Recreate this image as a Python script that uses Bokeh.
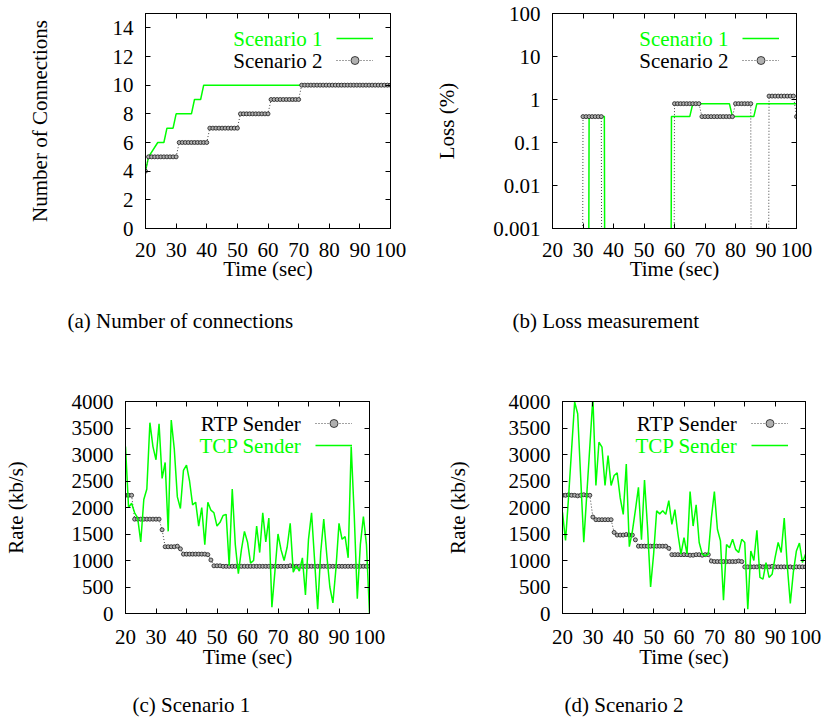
from bokeh.plotting import figure
from bokeh.layouts import column, row
from bokeh.models import (Range1d, FixedTicker, LinearAxis, LogAxis, Label, Legend,
                          LegendItem, CustomJSTickFormatter, Title)
from bokeh.embed import file_html
from bokeh.resources import INLINE

FONT = "Liberation Serif"
GREEN = "#00ff00"
FS = "21px"

# ---------------- data ----------------
time_ticks = [20, 30, 40, 50, 60, 70, 80, 90, 100]
conn_ticks = [0, 2, 4, 6, 8, 10, 12, 14]
loss_ticks = [0.001, 0.01, 0.1, 1, 10, 100]
rate_ticks = [0, 500, 1000, 1500, 2000, 2500, 3000, 3500, 4000]

time = list(range(20, 101))

# (a) number of connections
conn_s1_time = [20, 21, 24, 26, 27, 29, 30, 35, 36, 38, 39, 100]
conn_s1 = [4, 5, 6, 6, 7, 7, 8, 8, 9, 9, 10, 10]
conn_s2 = [4, 5, 5, 5, 5, 5, 5, 5, 5, 5,
           5, 6, 6, 6, 6, 6, 6, 6, 6, 6,
           6, 7, 7, 7, 7, 7, 7, 7, 7, 7,
           7, 8, 8, 8, 8, 8, 8, 8, 8, 8,
           8, 9, 9, 9, 9, 9, 9, 9, 9, 9,
           9, 10, 10, 10, 10, 10, 10, 10, 10, 10,
           10, 10, 10, 10, 10, 10, 10, 10, 10, 10,
           10, 10, 10, 10, 10, 10, 10, 10, 10, 10,
           10]

# (b) loss (%)   (0 = no loss)
loss_s1 = [0, 0, 0, 0, 0, 0, 0, 0, 0, 0,
           0, 0, 0.4, 0.4, 0.4, 0.4, 0.4, 0.4, 0, 0,
           0, 0, 0, 0, 0, 0, 0, 0, 0, 0,
           0, 0, 0, 0, 0, 0, 0, 0, 0, 0.4,
           0.4, 0.4, 0.4, 0.4, 0.4, 0.4, 0.8, 0.8, 0.8, 0.8,
           0.8, 0.8, 0.8, 0.8, 0.8, 0.8, 0.8, 0.8, 0.8, 0.4,
           0.4, 0.4, 0.4, 0.4, 0.4, 0.4, 0.4, 0.8, 0.8, 0.8,
           0.8, 0.8, 0.8, 0.8, 0.8, 0.8, 0.8, 0.8, 0.8, 0.8,
           0.8]
loss_s2 = [0, 0, 0, 0, 0, 0, 0, 0, 0, 0,
           0.4, 0.4, 0.4, 0.4, 0.4, 0.4, 0.4, 0, 0, 0,
           0, 0, 0, 0, 0, 0, 0, 0, 0, 0,
           0, 0, 0, 0, 0, 0, 0, 0, 0, 0,
           0.8, 0.8, 0.8, 0.8, 0.8, 0.8, 0.8, 0.8, 0.8, 0.4,
           0.4, 0.4, 0.4, 0.4, 0.4, 0.4, 0.4, 0.4, 0.4, 0.4,
           0.8, 0.8, 0.8, 0.8, 0.8, 0.8, 0, 0, 0, 0,
           0, 1.2, 1.2, 1.2, 1.2, 1.2, 1.2, 1.2, 1.2, 1.2,
           0.4]

# (c) scenario 1 rates (kb/s)
rtp_s1 = [2230, 2230, 2230, 1780, 1780, 1780, 1780, 1780, 1780, 1780,
          1780, 1780, 1580, 1260, 1260, 1260, 1260, 1270, 1220, 1120,
          1120, 1120, 1120, 1120, 1120, 1120, 1120, 1110, 1010, 900,
          900, 900, 890, 890, 890, 890, 890, 890, 890, 890,
          890, 890, 890, 890, 890, 890, 890, 890, 890, 890,
          890, 890, 890, 890, 900, 890, 890, 890, 890, 890,
          890, 890, 890, 890, 890, 890, 890, 890, 890, 890,
          890, 890, 890, 890, 890, 890, 890, 890, 890, 890,
          890]
tcp_s1 = [3150, 2000, 2080, 1900, 1800, 1350, 2150, 2350, 3600, 3150,
          2900, 3580, 2550, 2850, 1550, 3650, 3100, 2200, 1980, 2700,
          2800, 2500, 2050, 2100, 1650, 2000, 1300, 2100, 1950, 1900,
          1650, 1720, 1850, 1870, 900, 2350, 1300, 750, 1200, 1550,
          1350, 950, 1000, 1650, 1150, 1900, 1350, 1800, 120, 800,
          1500, 1200, 1000, 1250, 1700, 780, 900, 800, 1050, 350,
          1400, 1900, 1000, 80, 1150, 1780, 1100, 500, 200, 850,
          1700, 1400, 1450, 1050, 3150, 1850, 280, 1300, 1830, 1300,
          0]

# (d) scenario 2 rates (kb/s)
rtp_s2 = [2230, 2230, 2240, 2230, 2230, 2220, 2230, 2240, 2230, 2230,
          1820, 1770, 1770, 1770, 1770, 1770, 1770, 1530, 1480, 1480,
          1480, 1490, 1480, 1480, 1390, 1270, 1270, 1270, 1270, 1270,
          1270, 1270, 1270, 1270, 1270, 1230, 1110, 1110, 1110, 1110,
          1110, 1110, 1100, 1100, 1110, 1110, 1100, 1110, 1110, 990,
          980, 980, 980, 980, 980, 980, 980, 980, 990, 980,
          880, 880, 880, 880, 880, 890, 880, 890, 880, 890,
          880, 880, 880, 880, 880, 880, 870, 880, 880, 880,
          880]
tcp_s2 = [1910, 1377, 2200, 3100, 3990, 3770, 2550, 1346, 2250, 3150,
          4080, 2415, 3232, 3138, 2415, 2981, 2415, 2604, 2654, 2180,
          1870, 2820, 1260, 1550, 1950, 2380, 1390, 2520, 1620, 500,
          1120, 1940, 1880, 1940, 1870, 2130, 1680, 1960, 1500, 1120,
          1430, 1120, 2300, 1650, 2050, 1340, 1120, 1090, 1120, 1800,
          2300, 1590, 1370, 250, 1300, 1240, 1400, 1210, 1150, 1400,
          1340, 80, 1180, 1000, 1570, 680, 650, 960, 680, 740,
          1060, 1340, 1150, 1800, 900, 190, 780, 1180, 1330, 960,
          1120]

captions = ["(a) Number of connections", "(b) Loss measurement",
            "(c) Scenario 1", "(d) Scenario 2"]


# ---------------- helpers ----------------
def quiet_axis(ax):
    ax.major_label_text_font_size = "1px"
    ax.major_label_text_color = None
    ax.major_label_standoff = 0
    ax.minor_tick_in = 0
    ax.minor_tick_out = 0


def make_fig(width, height, bl, br, bt, bb, y_range, y_ticks, ylabel, ylabel_standoff,
             tick_standoff_x, xlabel_standoff, caption, cap_offset, cap_gap, log=False):
    p = figure(width=width, height=height, output_backend="svg", toolbar_location=None,
               x_range=Range1d(20, 100), y_range=y_range,
               y_axis_type="log" if log else "linear",
               min_border_left=bl, min_border_right=br, min_border_top=bt,
               min_border_bottom=bb)
    p.xgrid.visible = False
    p.ygrid.visible = False
    p.outline_line_color = "black"
    p.outline_line_width = 1
    p.background_fill_color = "white"
    p.border_fill_color = "white"

    xa = p.xaxis[0]
    xa.ticker = FixedTicker(ticks=time_ticks)
    xa.axis_label = "Time (sec)"
    xa.major_label_standoff = tick_standoff_x
    xa.axis_label_standoff = xlabel_standoff
    ya = p.yaxis[0]
    ya.ticker = FixedTicker(ticks=y_ticks)
    ya.axis_label = ylabel
    ya.major_label_standoff = 12
    ya.axis_label_standoff = ylabel_standoff
    if log:
        ya.formatter = CustomJSTickFormatter(code="return tick.toString();")
    for ax in (xa, ya):
        ax.major_tick_in = 5
        ax.major_tick_out = 0
        ax.minor_tick_in = 0
        ax.minor_tick_out = 0
        ax.axis_line_color = "black"
        ax.major_tick_line_color = "black"
        ax.major_label_text_font = FONT
        ax.major_label_text_font_size = FS
        ax.major_label_text_color = "black"
        ax.axis_label_text_font = FONT
        ax.axis_label_text_font_size = FS
        ax.axis_label_text_font_style = "normal"
        ax.axis_label_text_color = "black"

    # mirrored tick marks on top and right (gnuplot style), no labels
    top = LinearAxis(ticker=FixedTicker(ticks=time_ticks))
    right = (LogAxis if log else LinearAxis)(ticker=FixedTicker(ticks=y_ticks))
    for ax in (top, right):
        quiet_axis(ax)
        ax.major_tick_in = 5
        ax.major_tick_out = 0
        ax.axis_line_color = "black"
    p.add_layout(top, "above")
    p.add_layout(right, "right")

    # invisible spacer between the x axis and the sub-figure caption
    gap = LinearAxis(ticker=FixedTicker(ticks=time_ticks))
    quiet_axis(gap)
    gap.major_tick_in = 0
    gap.major_tick_out = cap_gap
    gap.major_tick_line_color = None
    gap.axis_line_color = None
    p.add_layout(gap, "below")

    cap = Title(text=caption, align="left", offset=cap_offset, standoff=0,
                text_font=FONT, text_font_size="21px", text_font_style="normal",
                text_color="black")
    p.add_layout(cap, "below")
    return p


def add_key(p, fw, fh, top_gap, entries):
    """gnuplot-style key: right-aligned text followed by sample."""
    items = []
    for i, (text, color, rends) in enumerate(entries):
        p.add_layout(Label(x=fw - 68, y=fh - top_gap - 22 * i, x_units="screen",
                           y_units="screen", text=text, text_align="right",
                           text_baseline="middle", text_font=FONT, text_font_size=FS,
                           text_color=color))
        items.append(LegendItem(label=" ", renderers=rends))
    leg = Legend(items=items, location=(fw - 54, fh - top_gap - 32), glyph_width=37,
                 glyph_height=20, label_height=20, spacing=2, padding=0, margin=0,
                 label_width=0, label_standoff=0, label_text_font_size="1px",
                 background_fill_alpha=0, border_line_alpha=0)
    p.add_layout(leg)


def dotted(p, x, y):
    l = p.line(x, y, line_color="#444444", line_width=1, line_dash="1 2")
    s = p.scatter(x, y, marker="circle", size=4, line_color="#1a1a1a",
                  fill_color="#b0b0b0", line_width=0.8)
    return [l, s]


W_L, W_R = 412, 410
H_T, H_B = 340, 383

# ---------------- (a) ----------------
pa = make_fig(W_L, H_T, 145, 22, 12, 112, Range1d(0, 15), conn_ticks,
              "Number of Connections", 58, 14, -3, captions[0], -78, 23)
fwa, fha = 245, 216
ra1 = pa.line(conn_s1_time, conn_s1, line_color=GREEN, line_width=1.5)
ra2 = dotted(pa, time, conn_s2)
add_key(pa, fwa, fha, 26, [("Scenario 1", GREEN, [ra1]), ("Scenario 2", "black", ra2)])

# ---------------- (b) ----------------
FLOOR = 1e-30
loss_s1_plot = [v if v > 0 else FLOOR for v in loss_s1]
loss_s2_plot = [v if v > 0 else FLOOR for v in loss_s2]
pb = make_fig(W_R, H_T, 140, 26, 13, 112, Range1d(0.001, 100), loss_ticks,
              "Loss (%)", 31, 14, -3, captions[1], -40, 23, log=True)
fwb, fhb = 244, 215
rb1 = pb.line(time, loss_s1_plot, line_color=GREEN, line_width=1.5)
rb2 = dotted(pb, time, loss_s2_plot)
add_key(pb, fwb, fhb, 25, [("Scenario 1", GREEN, [rb1]), ("Scenario 2", "black", rb2)])

# ---------------- (c) ----------------
pc = make_fig(W_L, H_B, 125, 43, 61, 110, Range1d(0, 4000), rate_ticks,
              "Rate (kb/s)", 41, 16, -2, captions[2], 7, 19)
fwc, fhc = 244, 212
rc1 = dotted(pc, time, rtp_s1)
rc2 = pc.line(time, tcp_s1, line_color=GREEN, line_width=1.5)
add_key(pc, fwc, fhc, 22, [("RTP Sender", "black", rc1), ("TCP Sender", GREEN, [rc2])])

# ---------------- (d) ----------------
pd = make_fig(W_R, H_B, 150, 17, 61, 110, Range1d(0, 4000), rate_ticks,
              "Rate (kb/s)", 36, 16, -2, captions[3], 2, 19)
fwd, fhd = 243, 212
rd1 = dotted(pd, time, rtp_s2)
rd2 = pd.line(time, tcp_s2, line_color=GREEN, line_width=1.5)
add_key(pd, fwd, fhd, 22, [("RTP Sender", "black", rd1), ("TCP Sender", GREEN, [rd2])])

layout = column(row(pa, pb, spacing=0), row(pc, pd, spacing=0), spacing=0)

open("out.html", "w").write(file_html(layout, INLINE))
